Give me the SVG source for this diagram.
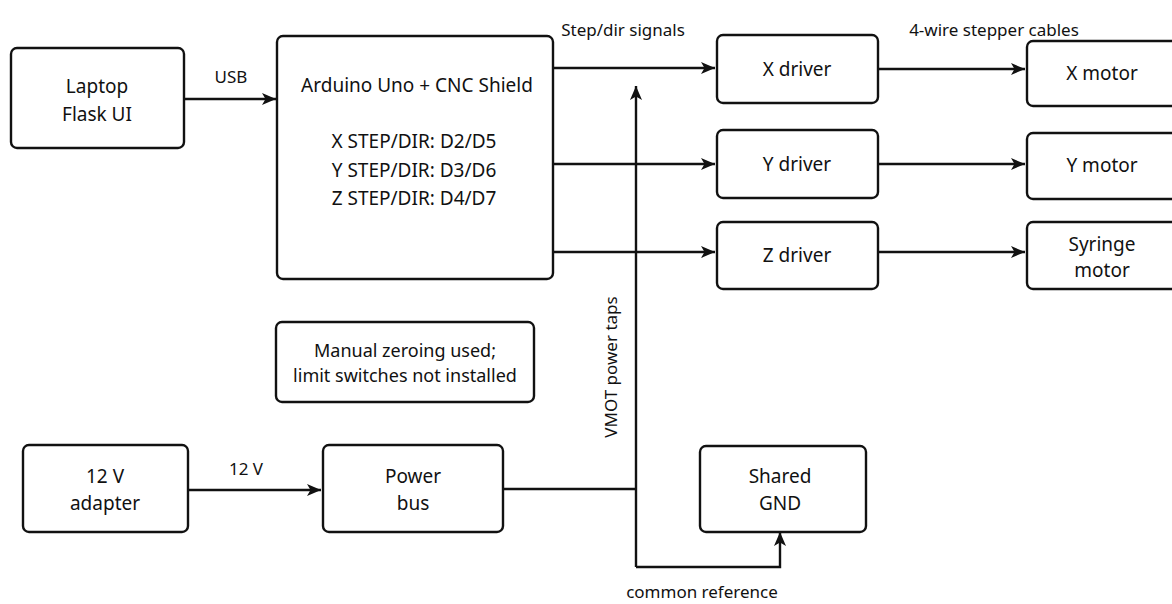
<svg xmlns="http://www.w3.org/2000/svg" width="1172" height="604" viewBox="0 0 1172 604">
<defs>
<marker id="arr" markerUnits="userSpaceOnUse" markerWidth="15" markerHeight="13" refX="14" refY="6.5" orient="auto">
<path d="M0,0.5 L14,6.5 L0,12.5 L3.5,6.5 z" fill="#111"/>
</marker>
<style>
.box{fill:#fff;stroke:#111;stroke-width:2.4}
.t{font-family:"Noto Sans","Open Sans","DejaVu Sans",sans-serif;font-size:19px;fill:#111;text-anchor:middle}
.n{font-family:"Noto Sans","Open Sans","DejaVu Sans",sans-serif;font-size:18px;fill:#111;text-anchor:middle}
.l{font-family:"Noto Sans","Open Sans","DejaVu Sans",sans-serif;font-size:17px;fill:#111;text-anchor:middle}
.c{fill:none;stroke:#111;stroke-width:2.4}
</style>
</defs>
<rect width="1172" height="604" fill="#fff"/>
<g id="connectors">
<path class="c" d="M184,99 H276" marker-end="url(#arr)"/>
<path class="c" d="M553,68 H715" marker-end="url(#arr)"/>
<path class="c" d="M553,164 H715" marker-end="url(#arr)"/>
<path class="c" d="M553,252 H715" marker-end="url(#arr)"/>
<path class="c" d="M878,69 H1025" marker-end="url(#arr)"/>
<path class="c" d="M878,164 H1025" marker-end="url(#arr)"/>
<path class="c" d="M878,252 H1025" marker-end="url(#arr)"/>
<path class="c" d="M188,490 H321" marker-end="url(#arr)"/>
<path class="c" d="M503,489 H636"/>
<path class="c" d="M636,567 V86" marker-end="url(#arr)"/>
<path class="c" d="M636,567 H780 V532" marker-end="url(#arr)"/>
<text class="l" x="231" y="83">USB</text>
<text class="l" x="623" y="36">Step/dir signals</text>
<text class="l" x="994" y="36">4-wire stepper cables</text>
<text class="l" x="246" y="475">12 V</text>
<text class="l" transform="translate(617,367) rotate(-90)">VMOT power taps</text>
<text class="l" x="702" y="598">common reference</text>
</g>
<g id="laptop">
<rect class="box" x="11" y="48" width="173" height="100" rx="6"/>
<text class="t" x="97" y="93">Laptop</text>
<text class="t" x="97" y="121">Flask UI</text>
</g>
<g id="arduino">
<rect class="box" x="277" y="36" width="276" height="243" rx="6"/>
<text class="t" x="417" y="92">Arduino Uno + CNC Shield</text>
<text class="t" x="414" y="148">X STEP/DIR: D2/D5</text>
<text class="t" x="414" y="177">Y STEP/DIR: D3/D6</text>
<text class="t" x="414" y="205">Z STEP/DIR: D4/D7</text>
</g>
<g id="xdriver">
<rect class="box" x="717" y="35" width="161" height="68" rx="6"/>
<text class="t" x="797" y="76">X driver</text>
</g>
<g id="ydriver">
<rect class="box" x="717" y="130" width="161" height="68" rx="6"/>
<text class="t" x="797" y="171">Y driver</text>
</g>
<g id="zdriver">
<rect class="box" x="717" y="222" width="161" height="67" rx="6"/>
<text class="t" x="797" y="262">Z driver</text>
</g>
<g id="xmotor">
<rect class="box" x="1027" y="41" width="160" height="65" rx="6"/>
<text class="t" x="1102" y="80">X motor</text>
</g>
<g id="ymotor">
<rect class="box" x="1027" y="133" width="160" height="66" rx="6"/>
<text class="t" x="1102" y="172">Y motor</text>
</g>
<g id="syringe">
<rect class="box" x="1027" y="222" width="160" height="67" rx="6"/>
<text class="t" x="1102" y="251">Syringe</text>
<text class="t" x="1102" y="277">motor</text>
</g>
<g id="note">
<rect class="box" x="276" y="322" width="258" height="80" rx="6"/>
<text class="n" x="405" y="357">Manual zeroing used;</text>
<text class="n" x="405" y="382">limit switches not installed</text>
</g>
<g id="adapter">
<rect class="box" x="23" y="445" width="165" height="87" rx="6"/>
<text class="t" x="105" y="483">12 V</text>
<text class="t" x="105" y="510">adapter</text>
</g>
<g id="powerbus">
<rect class="box" x="323" y="445" width="180" height="87" rx="6"/>
<text class="t" x="413" y="483">Power</text>
<text class="t" x="413" y="510">bus</text>
</g>
<g id="gnd">
<rect class="box" x="700" y="446" width="166" height="86" rx="6"/>
<text class="t" x="780" y="483">Shared</text>
<text class="t" x="780" y="510">GND</text>
</g>
</svg>
